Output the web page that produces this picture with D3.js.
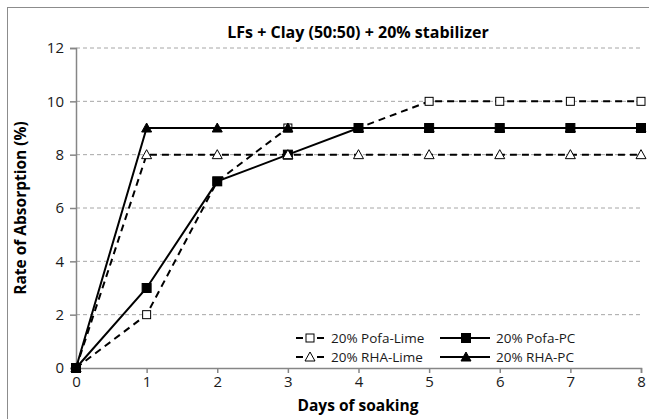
<!DOCTYPE html>
<html>
<head>
<meta charset="utf-8">
<script src="https://cdn.jsdelivr.net/npm/d3@7"></script>
<style>
  body { margin: 0; background: #fff; }
  text { font-family: "Open Sans", sans-serif; }
</style>
</head>
<body>
<div id="chart"></div>
<script>
// data
const days = [0, 1, 2, 3, 4, 5, 6, 7, 8];
const pofaLime = [0, 2, 7, 9, 9, 10, 10, 10, 10];
const pofaPC = [0, 3, 7, 8, 9, 9, 9, 9, 9];
const rhaLime = [0, 8, 8, 8, 8, 8, 8, 8, 8];
const rhaPC = [0, 9, 9, 9, 9, 9, 9, 9, 9];
const yTicks = [0, 2, 4, 6, 8, 10, 12];

const series = [
  { name: "20% Pofa-Lime", values: pofaLime, dashed: true, marker: "square", filled: false },
  { name: "20% Pofa-PC", values: pofaPC, dashed: false, marker: "square", filled: true },
  { name: "20% RHA-Lime", values: rhaLime, dashed: true, marker: "triangle", filled: false },
  { name: "20% RHA-PC", values: rhaPC, dashed: false, marker: "triangle", filled: true },
];

const width = 649, height = 419;
const margin = { top: 48, right: 8, bottom: 51, left: 76 };

const svg = d3.select("#chart").append("svg")
  .attr("width", width).attr("height", height);

// outer chart border
svg.append("rect")
  .attr("x", 7.5).attr("y", 7.5)
  .attr("width", width).attr("height", height)
  .attr("fill", "none").attr("stroke", "#8c8c8c").attr("stroke-width", 1);

const x = d3.scaleLinear().domain([0, 8]).range([margin.left, width - margin.right]);
const y = d3.scaleLinear().domain([0, 12]).range([height - margin.bottom, margin.top]);

// gridlines
svg.append("g")
  .selectAll("line")
  .data(yTicks.filter(d => d > 0))
  .join("line")
  .attr("x1", x(0)).attr("x2", x(8))
  .attr("y1", d => y(d)).attr("y2", d => y(d))
  .attr("stroke", "#a6a6a6").attr("stroke-width", 1)
  .attr("stroke-dasharray", "4,3");

// axes
const yAxis = svg.append("g")
  .attr("transform", `translate(${x(0)},0)`)
  .call(d3.axisLeft(y).tickValues(yTicks).tickSize(6).tickPadding(6));
const xAxis = svg.append("g")
  .attr("transform", `translate(0,${y(0)})`)
  .call(d3.axisBottom(x).tickValues(days).tickSize(5).tickPadding(3));

[xAxis, yAxis].forEach(g => {
  g.selectAll("path, line").attr("stroke", "#868686").attr("stroke-width", 1.5);
  g.selectAll("text").attr("fill", "#1a1a1a").style("font-size", "15px")
    .style("font-family", "'Open Sans', sans-serif");
});

// markers
function drawMarker(g, s, cx, cy) {
  const fill = s.filled ? "#000" : "#fff";
  if (s.marker === "square") {
    const sz = s.filled ? 9 : 8;
    g.append("rect")
      .attr("x", cx - sz / 2).attr("y", cy - sz / 2)
      .attr("width", sz).attr("height", sz)
      .attr("fill", fill).attr("stroke", "#000").attr("stroke-width", 1);
  } else {
    const h = 5;
    g.append("path")
      .attr("d", `M${cx},${cy - h} L${cx + h},${cy + h - 1} L${cx - h},${cy + h - 1} Z`)
      .attr("fill", fill).attr("stroke", "#000").attr("stroke-width", 1);
  }
}

const line = d3.line().x((d, i) => x(days[i])).y(d => y(d));

series.forEach(s => {
  const g = svg.append("g");
  g.append("path")
    .attr("d", line(s.values))
    .attr("fill", "none").attr("stroke", "#000").attr("stroke-width", 2)
    .attr("stroke-dasharray", s.dashed ? "7,5" : null);
  s.values.forEach((v, i) => drawMarker(g, s, x(days[i]), y(v)));
});

// legend
const legendPos = [
  { lx: 296, ly: 338 }, { lx: 440, ly: 338 },
  { lx: 296, ly: 357 }, { lx: 440, ly: 357 },
];
series.forEach((s, i) => {
  const p = legendPos[i];
  const g = svg.append("g");
  if (s.dashed) {
    // short dash, marker, short dash
    [[0, 7], [21, 28]].forEach(([a, b]) => {
      g.append("line")
        .attr("x1", p.lx + a).attr("x2", p.lx + b)
        .attr("y1", p.ly).attr("y2", p.ly)
        .attr("stroke", "#000").attr("stroke-width", 2);
    });
    drawMarker(g, s, p.lx + 14, p.ly);
  } else {
    g.append("line")
      .attr("x1", p.lx).attr("x2", p.lx + 50)
      .attr("y1", p.ly).attr("y2", p.ly)
      .attr("stroke", "#000").attr("stroke-width", 2);
    drawMarker(g, s, p.lx + 26, p.ly);
  }
  g.append("text")
    .attr("x", p.lx + (s.dashed ? 35 : 56)).attr("y", p.ly)
    .attr("dy", "0.35em")
    .style("font-size", "13.5px").attr("fill", "#1a1a1a")
    .text(s.name);
});

// title
svg.append("text")
  .attr("x", 358).attr("y", 32)
  .attr("dy", "0.35em").attr("text-anchor", "middle")
  .style("font-size", "16px").style("font-weight", "bold")
  .text("LFs + Clay (50:50) + 20% stabilizer");

// axis titles
svg.append("text")
  .attr("x", 358).attr("y", 406)
  .attr("dy", "0.35em").attr("text-anchor", "middle")
  .style("font-size", "15.5px").style("font-weight", "bold")
  .text("Days of soaking");

svg.append("text")
  .attr("transform", "translate(21,208) rotate(-90)")
  .attr("dy", "0.35em").attr("text-anchor", "middle")
  .style("font-size", "15.5px").style("font-weight", "bold")
  .text("Rate of Absorption (%)");
</script>
</body>
</html>
